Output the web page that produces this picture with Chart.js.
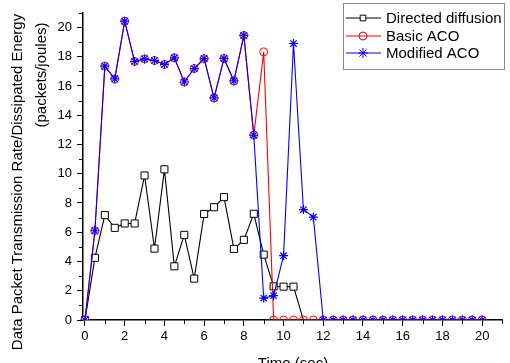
<!DOCTYPE html>
<html><head><meta charset="utf-8">
<script src="https://cdn.jsdelivr.net/npm/chart.js@4/dist/chart.umd.min.js"></script>
<style>html,body{margin:0;padding:0;background:#fff;overflow:hidden}#wrap{width:510px;height:363px;position:relative}</style>
</head><body><div id="wrap"><canvas id="c"></canvas></div>
<script>
const times = [0,0.5,1,1.5,2,2.5,3,3.5,4,4.5,5,5.5,6,6.5,7,7.5,8,8.5,9,9.5,10,10.5,11,11.5,12,12.5,13,13.5,14,14.5,15,15.5,16,16.5,17,17.5,18,18.5,19,19.5,20];
const directedDiffusion = [0,4.25,7.17,6.3,6.6,6.6,9.88,4.88,10.3,3.67,5.82,2.83,7.25,7.71,8.4,4.86,5.48,7.26,4.47,2.3,2.28,2.28,0,null,null,null,null,null,null,null,null,null,null,null,null,null,null,null,null,null,null];
const basicACO = [0,6.1,17.35,16.48,20.43,17.67,17.85,17.74,17.47,17.92,16.27,17.19,17.87,15.18,17.88,16.34,19.45,12.64,18.33,0,0,0,0,0,0,0,0,0,0,0,0,0,0,0,0,0,0,0,0,0,0];
const modifiedACO = [0,6.1,17.35,16.48,20.43,17.67,17.85,17.74,17.47,17.92,16.27,17.19,17.87,15.18,17.88,16.34,19.45,12.64,1.5,1.66,4.4,18.9,7.55,7.03,0,0,0,0,0,0,0,0,0,0,0,0,0,0,0,0,0];
const seriesNames = ['Directed diffusion','Basic ACO','Modified ACO'];
const xTitle = 'Time (sec)';
const yTitle = ['Data Packet Transmission Rate/Dissipated Energy','(packets/joules)'];

const FONT = '"Liberation Sans", Arial, sans-serif';
const toXY = arr => times.map((t,i)=>({x:t,y:arr[i]}));

const minorTicks = {
  id:'minorTicks',
  afterDraw(chart){
    const ctx = chart.ctx, xs = chart.scales.x, ys = chart.scales.y, a = chart.chartArea;
    ctx.save(); ctx.strokeStyle='#000'; ctx.lineWidth=1;
    ctx.beginPath();
    for(let v=1; v<=21; v+=2){
      const px = Math.round(xs.getPixelForValue(v))+0.5;
      ctx.moveTo(px, a.bottom); ctx.lineTo(px, a.bottom+4);
      const py = Math.round(ys.getPixelForValue(v))+0.5;
      ctx.moveTo(a.left, py); ctx.lineTo(a.left-4, py);
    }
    ctx.stroke(); ctx.restore();
  }
};

const titles = {
  id:'titles',
  afterDraw(chart){
    const ctx = chart.ctx;
    ctx.save(); ctx.fillStyle='#000';
    ctx.font = '15px '+FONT;
    ctx.textAlign='center'; ctx.textBaseline='middle';
    ctx.fillText(xTitle, 293, 364);
    ctx.translate(0,0);
    ctx.save(); ctx.translate(18,182); ctx.rotate(-Math.PI/2); ctx.fillText(yTitle[0],0,0); ctx.restore();
    ctx.save(); ctx.translate(42,75); ctx.rotate(-Math.PI/2); ctx.fillText(yTitle[1],0,0); ctx.restore();
    ctx.restore();
  }
};

const boxLegend = {
  id:'boxLegend',
  afterDraw(chart){
    const ctx = chart.ctx;
    ctx.save();
    ctx.strokeStyle='#888'; ctx.lineWidth=1;
    ctx.strokeRect(343.5,3.5,161,66);
    const rows=[18,36,53];
    chart.data.datasets.forEach((ds,i)=>{
      const y=rows[i];
      ctx.strokeStyle=ds.borderColor; ctx.lineWidth=1.2;
      ctx.beginPath(); ctx.moveTo(346,y); ctx.lineTo(381,y); ctx.stroke();
      ctx.fillStyle = ds.pointBackgroundColor; ctx.strokeStyle = ds.pointBorderColor; ctx.lineWidth=1;
      Chart.helpers.drawPoint(ctx,{pointStyle:ds.pointStyle,radius:ds.legendRadius,rotation:0,borderWidth:1},363,y);
      ctx.fillStyle='#000'; ctx.font='15px '+FONT; ctx.textAlign='left'; ctx.textBaseline='middle';
      ctx.fillText(ds.label,386,y+1);
    });
    ctx.restore();
  }
};

const clipArea = {left:10,top:10,right:10,bottom:0};

new Chart(document.getElementById('c'),{
  type:'line',
  data:{datasets:[
    {label:seriesNames[0],data:toXY(directedDiffusion),borderColor:'#000',borderWidth:1.1,
     pointStyle:'rect',pointRadius:directedDiffusion.map((v,i)=>i===22?0:5),legendRadius:4,
     pointBackgroundColor:'#fff',pointBorderColor:'#000',pointBorderWidth:1,order:3,clip:clipArea,tension:0},
    {label:seriesNames[1],data:toXY(basicACO),borderColor:'#f00',borderWidth:1.1,
     pointStyle:'circle',pointRadius:4,legendRadius:4,
     pointBackgroundColor:'rgba(255,255,255,0)',pointBorderColor:'#f00',pointBorderWidth:1,order:2,clip:clipArea,tension:0},
    {label:seriesNames[2],data:toXY(modifiedACO),borderColor:'#00f',borderWidth:1.1,
     pointStyle:'star',pointRadius:4.5,legendRadius:5,
     pointBackgroundColor:'#00f',pointBorderColor:'#00f',pointBorderWidth:1.2,order:1,clip:clipArea,tension:0}
  ]},
  options:{
    responsive:true, maintainAspectRatio:false, animation:false, devicePixelRatio:1,
    layout:{padding:{top:12,right:8,left:0,bottom:0}},
    plugins:{legend:{display:false},tooltip:{enabled:false}},
    scales:{
      x:{type:'linear',min:-0.1,max:21,
        afterFit(s){s.height=43;},
        ticks:{stepSize:2,includeBounds:false,color:'#000',font:{family:FONT,size:13},padding:3,maxRotation:0,
          callback:v=>String(v)},
        grid:{drawOnChartArea:false,drawTicks:true,tickLength:6,tickColor:'#000',color:'#000'},
        border:{display:true,color:'#000',width:1.5},
        title:{display:false}},
      y:{type:'linear',min:0,max:21,
        afterFit(s){s.width=83;},
        ticks:{stepSize:2,includeBounds:false,color:'#000',font:{family:FONT,size:13},padding:5,
          callback:v=>String(v)},
        grid:{drawOnChartArea:false,drawTicks:true,tickLength:6,tickColor:'#000',color:'#000'},
        border:{display:true,color:'#000',width:1.5},
        title:{display:false}}
    }
  },
  plugins:[minorTicks,titles,boxLegend]
});
</script></body></html>
